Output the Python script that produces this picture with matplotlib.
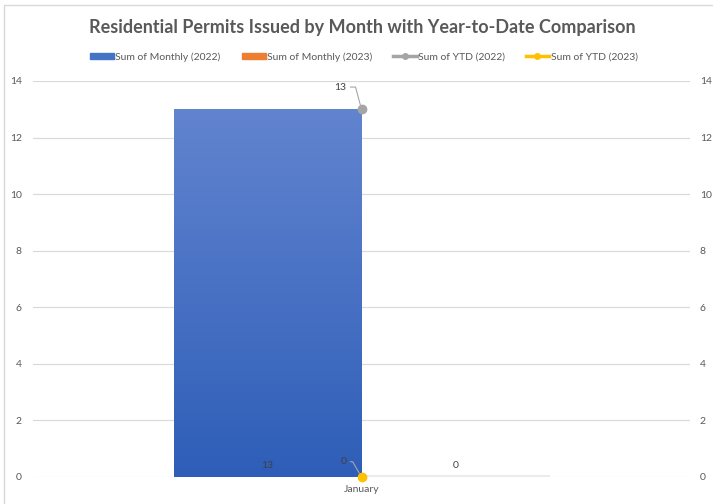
import numpy as np
import matplotlib.pyplot as plt
from matplotlib.patches import Rectangle, Patch
from matplotlib.lines import Line2D
from matplotlib.colors import LinearSegmentedColormap

# data
months = ["January"]
monthly_2022 = [13]
monthly_2023 = [0]
ytd_2022 = [13]
ytd_2023 = [0]
y_ticks = [0, 2, 4, 6, 8, 10, 12, 14]

plt.rcParams['font.family'] = ['Lato', 'DejaVu Sans']
grey_txt = "#595959"

fig = plt.figure(figsize=(7.13, 5.04), dpi=100)
W, H = 713, 504

# chart border (Excel style)
fig.patches.append(Rectangle((4 / W, -0.05), 1.0, 1 - 5 / H + 0.05, transform=fig.transFigure,
                             fill=False, edgecolor="#d9d9d9", linewidth=1))

ax = fig.add_axes([33 / W, 27 / H, 657 / W, 396 / H])
ax.set_xlim(-0.5, 0.5)
ax.set_ylim(0, 14)

x = np.arange(len(months))
bw = 0.286

# blue bars with vertical gradient
cmap = LinearSegmentedColormap.from_list("g", ["#2E5EB8", "#6284CF"])
bars = ax.bar(x - bw / 2, monthly_2022, bw, color="#4472C4", zorder=2)
for b in bars:
    grad = np.linspace(0, 1, 256).reshape(-1, 1)
    im = ax.imshow(grad, cmap=cmap, aspect="auto", origin="lower",
                   extent=[b.get_x(), b.get_x() + b.get_width(), 0, b.get_height()], zorder=2)
    im.set_clip_path(b)
    b.set_facecolor("none")
ax.bar(x + bw / 2, monthly_2023, bw, color="#ED7D31", zorder=2)
ax.plot([x[0], x[0] + bw], [0.02, 0.02], color="#ececec", lw=1.5, zorder=1)

# lines (single point each)
ax.plot(x, ytd_2022, color="#A5A5A5", lw=2.2, marker="o", ms=6, zorder=4, clip_on=False)
ax.plot(x, ytd_2023, color="#FFC000", lw=2.2, marker="o", ms=6, zorder=4, clip_on=False)

# bar labels
for xi, v in zip(x, monthly_2022):
    ax.text(xi - bw / 2, 0.4, str(v), ha="center", va="center", fontsize=7.5, color="#404040", zorder=5)
for xi, v in zip(x, monthly_2023):
    ax.text(xi + bw / 2, 0.4, str(v), ha="center", va="center", fontsize=7.5, color="#404040", zorder=5)

# line labels with leader lines
for xi, v in zip(x, ytd_2022):
    ax.annotate(str(v), xy=(xi, v), xytext=(-11, 16), textcoords="offset points",
                ha="right", va="center", fontsize=7.5, color="#404040", zorder=5,
                arrowprops=dict(arrowstyle="-", color="#a6a6a6", lw=0.8,
                                connectionstyle="angle,angleA=0,angleB=105,rad=0", shrinkA=1, shrinkB=3))
for xi, v in zip(x, ytd_2023):
    ax.annotate(str(v), xy=(xi, v), xytext=(-11, 11), textcoords="offset points",
                ha="right", va="center", fontsize=7.5, color="#404040", zorder=5,
                arrowprops=dict(arrowstyle="-", color="#a6a6a6", lw=0.8,
                                connectionstyle="angle,angleA=0,angleB=120,rad=0", shrinkA=1, shrinkB=3))

# axes styling
ax.set_yticks(y_ticks)
ax.yaxis.grid(True, color="#d9d9d9", lw=0.8, zorder=0)
ax.set_axisbelow(True)
for s in ax.spines.values():
    s.set_visible(False)
ax.tick_params(axis="y", length=0, labelsize=7.5, labelcolor=grey_txt, pad=8)
ax.set_xticks(x)
ax.set_xticklabels(months)
ax.tick_params(axis="x", length=0, labelsize=7.5, labelcolor=grey_txt, pad=6)

ax2 = ax.twinx()
ax2.set_ylim(0, 14)
ax2.set_yticks(y_ticks)
for s in ax2.spines.values():
    s.set_visible(False)
ax2.tick_params(axis="y", length=0, labelsize=7.5, labelcolor=grey_txt, pad=7)

fig.text(362 / W, 1 - 27 / H, "Residential Permits Issued by Month with Year-to-Date Comparison",
         ha="center", va="center", fontsize=13, fontweight="bold", color=grey_txt)

# legend
handles = [Patch(color="#4472C4"), Patch(color="#ED7D31"),
           Line2D([], [], color="#A5A5A5", lw=2.5, marker="o", ms=4),
           Line2D([], [], color="#FFC000", lw=2.5, marker="o", ms=4)]
labels = ["Sum of Monthly (2022)", "Sum of Monthly (2023)", "Sum of YTD (2022)", "Sum of YTD (2023)"]
fig.legend(handles, labels, loc="center", bbox_to_anchor=(364 / W, 1 - 57 / H), ncol=4,
           frameon=False, fontsize=7.5, labelcolor=grey_txt, handlelength=2.3, handleheight=0.5,
           handletextpad=0.1, columnspacing=2.0)

fig.savefig("out.png", dpi=100)
